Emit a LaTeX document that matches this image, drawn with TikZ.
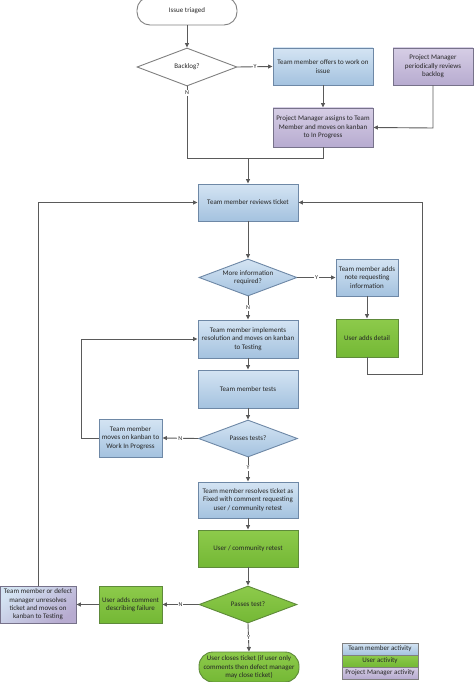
\documentclass[tikz,border=0pt]{standalone}
\usepackage{fontspec}
\setmainfont{Carlito}
\usetikzlibrary{shapes.geometric,arrows.meta}
\definecolor{bT}{HTML}{D4E4F3}
\definecolor{bB}{HTML}{A4C2DF}
\definecolor{bD}{HTML}{6E88A6}
\definecolor{gT}{HTML}{8DCA4B}
\definecolor{gB}{HTML}{74B835}
\definecolor{gD}{HTML}{5E8A3A}
\definecolor{pT}{HTML}{D6CEE5}
\definecolor{pB}{HTML}{B7ABD0}
\definecolor{pD}{HTML}{77728A}
\definecolor{ln}{HTML}{5A5A5A}
\definecolor{tx}{HTML}{262626}
\begin{document}
\begin{tikzpicture}[x=1pt,y=-1pt,
  font=\fontsize{7}{8.4}\selectfont, text=tx,
  box/.style={rectangle, draw, line width=0.9pt, inner sep=1pt, align=center},
  bluebox/.style={box, draw=bD, top color=bT, bottom color=bB},
  greenbox/.style={box, draw=gD, top color=gT, bottom color=gB},
  purplebox/.style={box, draw=pD, top color=pT, bottom color=pB},
  dia/.style={diamond, draw, line width=0.9pt, inner sep=0pt},
  arr/.style={draw=ln, line width=0.9pt, -{Triangle[length=4.5pt,width=4pt]}},
  cn/.style={draw=ln, line width=0.9pt},
  yn/.style={fill=white, inner sep=1pt, font=\fontsize{6}{7}\selectfont},
  dtext/.style={align=center, inner sep=0pt},
  leg/.style={rectangle, draw=gray, line width=0.8pt, minimum width=76, minimum height=12, inner sep=0pt}
]
\useasboundingbox (0,0) rectangle (474,682);

% top
\node[box, draw=gray, fill=white, rounded corners=13, minimum width=100, minimum height=28] (start) at (187,11) {Issue triaged};
\node[dia, draw=gray, fill=white, minimum width=100, minimum height=38] (backlog) at (187,67) {};
\node[dtext] (backlogT) at (backlog) {Backlog?};
\node[bluebox, minimum width=100, minimum height=37] (offers) at (323,66.5) {Team member offers to work on\\issue};
\node[purplebox, minimum width=80, minimum height=37] (periodic) at (433,66.5) {Project Manager\\periodically reviews\\backlog};
\node[purplebox, minimum width=100, minimum height=39] (assign) at (323,127.5) {Project Manager assigns to Team\\Member and moves on kanban\\to In Progress};

\coordinate (jl) at (187,158);
\coordinate (jr) at (323,158);
\coordinate (j) at (248,158);
\coordinate (pm) at (433,128);

% review loop
\node[bluebox, minimum width=100, minimum height=37] (reviews) at (248,202.5) {Team member reviews ticket};
\node[dia, draw=bD, top color=bT, bottom color=bB, minimum width=98, minimum height=37] (more) at (248,277.5) {};
\node[dtext] (moreT) at (more) {More information\\required?};
\node[bluebox, minimum width=62, minimum height=37] (note) at (367,277.5) {Team member adds\\note requesting\\information};
\node[greenbox, minimum width=62, minimum height=38] (detail) at (367,338) {User adds detail};
\coordinate (r1) at (367,374);
\coordinate (r2) at (422,374);
\coordinate (r3) at (422,202.5);

\node[bluebox, minimum width=100, minimum height=38] (impl) at (248,339) {Team member implements\\resolution and moves on kanban\\to Testing};
\node[bluebox, minimum width=100, minimum height=38] (tests) at (248,389) {Team member tests};
\node[dia, draw=bD, top color=bT, bottom color=bB, minimum width=99, minimum height=37] (passes) at (248,438.5) {};
\node[dtext] (passesT) at (passes) {Passes tests?};
\node[bluebox, minimum width=63, minimum height=38] (wip) at (130.5,438) {Team member\\moves on kanban to\\Work In Progress};
\coordinate (w1) at (81,438);
\coordinate (w2) at (81,339);

\node[bluebox, minimum width=100, minimum height=36] (resolve) at (248,500) {Team member resolves ticket as\\Fixed with comment requesting\\user / community retest};
\node[greenbox, minimum width=100, minimum height=37] (retest) at (248,548.5) {User / community retest};
\node[dia, draw=gD, top color=gT, bottom color=gB, minimum width=98, minimum height=37] (ptest) at (248,604.5) {};
\node[dtext] (ptestT) at (ptest) {Passes test?};
\node[greenbox, minimum width=63, minimum height=37] (ucomment) at (130.5,604.5) {User adds comment\\describing failure};
\node[box, draw=pD, shading=axis, top color=bT, bottom color=pB, shading angle=35, minimum width=76, minimum height=37] (unres) at (38,604.5) {Team member or defect\\manager unresolves\\ticket and moves on\\kanban to Testing};
\coordinate (u1) at (38,202.5);
\node[box, draw=gD, top color=gT, bottom color=gB, rounded corners=14, minimum width=100, minimum height=30] (close) at (249,667) {User closes ticket (if user only\\comments then defect manager\\may close ticket)};

% legend
\node[leg, top color=bT, bottom color=bB] (leg1) at (380,649) {Team member activity};
\node[leg, top color=gT, bottom color=gB] (leg2) at (380,661) {User activity};
\node[leg, top color=pT, bottom color=pB] (leg3) at (380,673) {Project Manager activity};

% connectors
\draw[arr] (start) -- (backlog);
\draw[arr] (backlog.east) -- node[yn]{Y} (offers.west);
\draw[arr] (offers) -- (assign);
\draw[arr] (periodic.south) -- (pm) -- (assign.east);
\draw[cn] (backlog.south) -- node[yn, pos=0.09]{N} (jl) -- (jr) -- (assign.south);
\draw[arr] (j) -- (reviews);
\draw[arr] (reviews) -- (more);
\draw[arr] (more.east) -- node[yn]{Y} (note.west);
\draw[arr] (note) -- (detail);
\draw[arr] (detail.south) -- (r1) -- (r2) -- (r3) -- (reviews.east);
\draw[arr] (more.south) -- node[yn]{N} (impl.north);
\draw[arr] (impl) -- (tests);
\draw[arr] (tests) -- (passes);
\draw[arr] (passes.west) -- node[yn]{N} (wip.east);
\draw[arr] (wip.west) -- (w1) -- (w2) -- (impl.west);
\draw[arr] (passes.south) -- node[yn, pos=0.42]{Y} (resolve.north);
\draw[arr] (resolve) -- (retest);
\draw[arr] (retest) -- (ptest);
\draw[arr] (ptest.west) -- node[yn]{N} (ucomment.east);
\draw[arr] (ucomment) -- (unres);
\draw[arr] (unres.north) -- (u1) -- (reviews.west);
\draw[arr] (ptest.south) -- node[yn]{Y} (close.north);
\end{tikzpicture}
\end{document}
